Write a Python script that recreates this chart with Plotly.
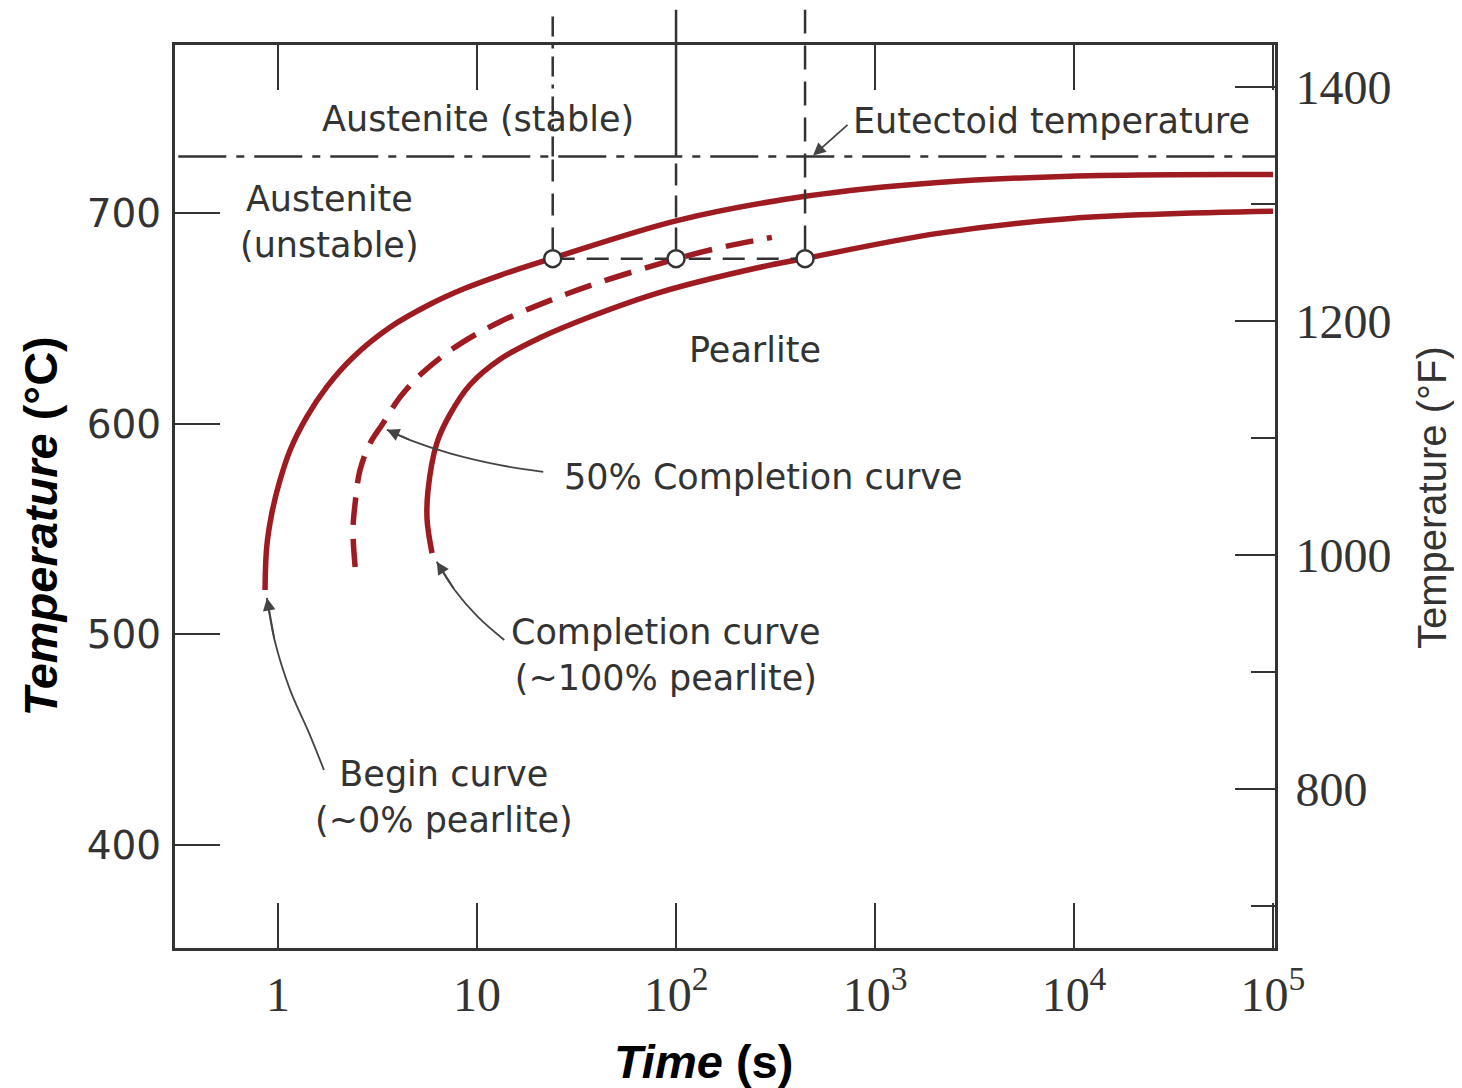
import math
import plotly.graph_objects as go

# ---------------- data ----------------
# Begin curve (~0% pearlite)
begin_t = [0.86, 0.877, 0.930, 1.023, 1.149, 1.394, 1.757, 2.390, 3.655, 5.805, 8.70, 13.05,
           23.8, 102.3, 445, 2073, 13510, 1e5]
begin_T = [521.1, 541.6, 557.5, 573.3, 587.5, 603.3, 617.6, 631.8, 645.9, 656.8, 664.4, 670.6,
           678.6, 696.7, 708.1, 714.7, 718.0, 718.5]

# 50% completion curve
half_t = [2.44, 2.38, 2.44, 2.58, 2.90, 3.37, 4.10, 5.35, 8.03, 13.05, 23.3, 41.5, 102.3,
          160.7, 303]
half_T = [532.0, 549.5, 562.4, 578.0, 590.8, 600.3, 612.7, 624.5, 637.4, 648.5, 658.7, 667.3,
          678.6, 683.4, 688.6]

# Completion curve (~100% pearlite)
end_t = [5.94, 5.61, 5.67, 6.27, 7.32, 9.22, 13.05, 20.7, 37.0, 83.1, 264, 445, 2073, 9660, 1e5]
end_T = [538.6, 554.3, 568.5, 590.7, 604.6, 618.6, 630.7, 640.9, 650.9, 662.5, 674.4, 678.6,
         690.5, 697.6, 701]

# Isothermal reading at ~678 C
iso_T = 678.5
iso_t = [24, 100, 445]

eutectoid_T = 727

x_tickvals = [1, 10, 100, 1000, 1e4, 1e5]
x_ticktext = ["1", "10", "10<sup>2</sup>", "10<sup>3</sup>", "10<sup>4</sup>", "10<sup>5</sup>"]
c_ticks = [400, 500, 600, 700]
f_ticks = [800, 1000, 1200, 1400]

# leader lines (time, temperature) ending at arrow tips
lead_half_t = [21.5, 13.05, 7.31, 4.61, 3.52]
lead_half_T = [577.2, 580.4, 586.0, 592.3, 597.2]
lead_end_t = [13.7, 10.07, 7.72, 6.27]
lead_end_T = [497.3, 508.4, 521.1, 534.5]
lead_begin_t = [1.70, 1.43, 1.149, 0.96, 0.879]
lead_begin_T = [435.6, 453.2, 473.6, 497.3, 517.3]

# ---------------- figure ----------------
RED = "#9E1B22"
INK = "#333333"
Y_RANGE = [351, 780]
X_RANGE = [-0.518, 5.01]


def c2f(c):
    return c * 9 / 5 + 32


def to_paper_y(T):
    return (T - Y_RANGE[0]) / (Y_RANGE[1] - Y_RANGE[0])


fig = go.Figure()

fig.add_trace(go.Scatter(x=begin_t, y=begin_T, mode="lines",
                         line=dict(color=RED, width=5.5, shape="spline", smoothing=1.0),
                         hoverinfo="skip", showlegend=False))
fig.add_trace(go.Scatter(x=half_t, y=half_T, mode="lines",
                         line=dict(color=RED, width=5.5, shape="spline", smoothing=1.0,
                                   dash="28px,14px"),
                         hoverinfo="skip", showlegend=False))
fig.add_trace(go.Scatter(x=end_t, y=end_T, mode="lines",
                         line=dict(color=RED, width=5.5, shape="spline", smoothing=1.0),
                         hoverinfo="skip", showlegend=False))

# leader lines
for lt, lT in [(lead_half_t, lead_half_T), (lead_end_t, lead_end_T), (lead_begin_t, lead_begin_T)]:
    fig.add_trace(go.Scatter(x=lt, y=lT, mode="lines",
                             line=dict(color="#444444", width=1.8, shape="spline", smoothing=1.0),
                             hoverinfo="skip", showlegend=False))

# horizontal dashed isotherm between the circles
fig.add_trace(go.Scatter(x=[iso_t[0], iso_t[-1]], y=[iso_T, iso_T], mode="lines",
                         line=dict(color=INK, width=2.5, dash="22px,12px"),
                         hoverinfo="skip", showlegend=False))

# open circles
fig.add_trace(go.Scatter(x=iso_t, y=[iso_T] * len(iso_t), mode="markers",
                         marker=dict(size=17, color="white", line=dict(color=INK, width=2.5)),
                         hoverinfo="skip", showlegend=False, cliponaxis=False))

# invisible trace on the Fahrenheit axis
fig.add_trace(go.Scatter(x=[x_tickvals[0]], y=[c2f(eutectoid_T)], yaxis="y2", mode="markers",
                         marker=dict(opacity=0), hoverinfo="skip", showlegend=False))

shapes = []
# eutectoid line
shapes.append(dict(type="line", xref="paper", yref="y", x0=0.003, x1=1.0,
                   y0=eutectoid_T, y1=eutectoid_T,
                   line=dict(color=INK, width=2.5, dash="48px,10px,8px,10px")))
top_p = 1.039
eut_p = to_paper_y(eutectoid_T)
iso_p = to_paper_y(iso_T) + 0.01
# left vertical: dash-dot above eutectoid, dashed below
shapes.append(dict(type="line", xref="x", yref="paper", x0=iso_t[0], x1=iso_t[0], y0=eut_p, y1=top_p,
                   line=dict(color=INK, width=2.5, dash="20px,8px,4px,8px")))
shapes.append(dict(type="line", xref="x", yref="paper", x0=iso_t[0], x1=iso_t[0], y0=iso_p, y1=eut_p,
                   line=dict(color=INK, width=2.5, dash="22px,12px")))
# middle vertical: solid above, dashed below
shapes.append(dict(type="line", xref="x", yref="paper", x0=iso_t[1], x1=iso_t[1], y0=eut_p, y1=top_p,
                   line=dict(color=INK, width=2.5)))
shapes.append(dict(type="line", xref="x", yref="paper", x0=iso_t[1], x1=iso_t[1], y0=iso_p, y1=eut_p,
                   line=dict(color=INK, width=2.5, dash="22px,10px")))
# right vertical: dashed
shapes.append(dict(type="line", xref="x", yref="paper", x0=iso_t[2], x1=iso_t[2], y0=iso_p, y1=top_p,
                   line=dict(color=INK, width=2.5, dash="24px,12px")))

TXT = dict(family="DejaVu Sans", size=35, color=INK)
annotations = []


def label(text, t, T, **kw):
    d = dict(text=text, x=math.log10(t), y=T, xref="x", yref="y", showarrow=False,
             font=TXT, align="center", xanchor="center", yanchor="middle")
    d.update(kw)
    annotations.append(d)


label("Austenite (stable)", 10 ** 1.005, 745)
label("Eutectoid temperature", 10 ** 3.889, 744)
label("Austenite<br>(unstable)", 10 ** 0.256, 695.7)
label("Pearlite", 10 ** 2.397, 635)
label("50% Completion curve", 10 ** 2.437, 574.7)
label("Completion curve<br>(~100% pearlite)", 10 ** 1.95, 490.2)
label("Begin curve<br>(~0% pearlite)", 10 ** 0.834, 422.8)


# arrow heads
def head(tt, TT):
    annotations.append(dict(text="", x=math.log10(tt[-1]), y=TT[-1], xref="x", yref="y",
                            ax=math.log10(tt[-2]), ay=TT[-2], axref="x", ayref="y",
                            showarrow=True, arrowhead=2, arrowsize=1.4, arrowwidth=1.8,
                            arrowcolor="#444444", standoff=0, startstandoff=0))


head(lead_half_t, lead_half_T)
head(lead_end_t, lead_end_T)
head(lead_begin_t, lead_begin_T)
# eutectoid arrow
annotations.append(dict(text="", x=math.log10(488), y=eutectoid_T + 0.5, xref="x", yref="y",
                        ax=36, ay=-32, showarrow=True, arrowhead=2, arrowsize=1.4,
                        arrowwidth=1.8, arrowcolor="#444444", standoff=0))

# axis titles
annotations.append(dict(text="<b><i>Temperature</i> (°C)</b>", xref="paper", yref="paper",
                        x=-0.1227, y=0.467, textangle=-90, showarrow=False,
                        xanchor="center", yanchor="middle",
                        font=dict(family="Liberation Sans", size=47, color="black")))
annotations.append(dict(text="Temperature (°F)", xref="paper", yref="paper",
                        x=1.1427, y=0.4994, textangle=-90, showarrow=False,
                        xanchor="center", yanchor="middle",
                        font=dict(family="Liberation Sans", size=40, color=INK)))
annotations.append(dict(text="<b><i>Time</i> (s)</b>", xref="paper", yref="paper",
                        x=0.48, y=-0.1262, showarrow=False,
                        xanchor="center", yanchor="middle",
                        font=dict(family="Liberation Sans", size=47, color="black")))

fig.update_layout(
    width=1462, height=1088,
    margin=dict(l=167, r=195, t=37, b=148),
    paper_bgcolor="white", plot_bgcolor="white",
    showlegend=False,
    shapes=shapes,
    annotations=annotations,
    xaxis=dict(type="log", range=X_RANGE, tickvals=x_tickvals, ticktext=x_ticktext,
               ticks="inside", ticklen=45, tickwidth=2, tickcolor=INK,
               showline=True, linewidth=3, linecolor=INK, mirror="ticks",
               showgrid=False, zeroline=False,
               tickfont=dict(family="Liberation Serif", size=48, color=INK),
               ticklabelstandoff=2),
    yaxis=dict(range=Y_RANGE, tickvals=c_ticks, ticks="inside", ticklen=45, tickwidth=2,
               tickcolor=INK, showline=True, linewidth=3, linecolor=INK,
               showgrid=False, zeroline=False,
               tickfont=dict(family="DejaVu Sans", size=39, color=INK),
               ticklabelstandoff=3),
    yaxis2=dict(overlaying="y", side="right",
                range=[c2f(Y_RANGE[0]), c2f(Y_RANGE[1])], tickvals=f_ticks,
                ticks="inside", ticklen=40, tickwidth=2, tickcolor=INK,
                minor=dict(dtick=100, tick0=0, ticks="inside", ticklen=24, tickwidth=2,
                           tickcolor=INK),
                showline=True, linewidth=3, linecolor=INK,
                showgrid=False, zeroline=False,
                tickfont=dict(family="Liberation Serif", size=48, color=INK),
                ticklabelstandoff=8),
)

fig.write_html("out.html")
